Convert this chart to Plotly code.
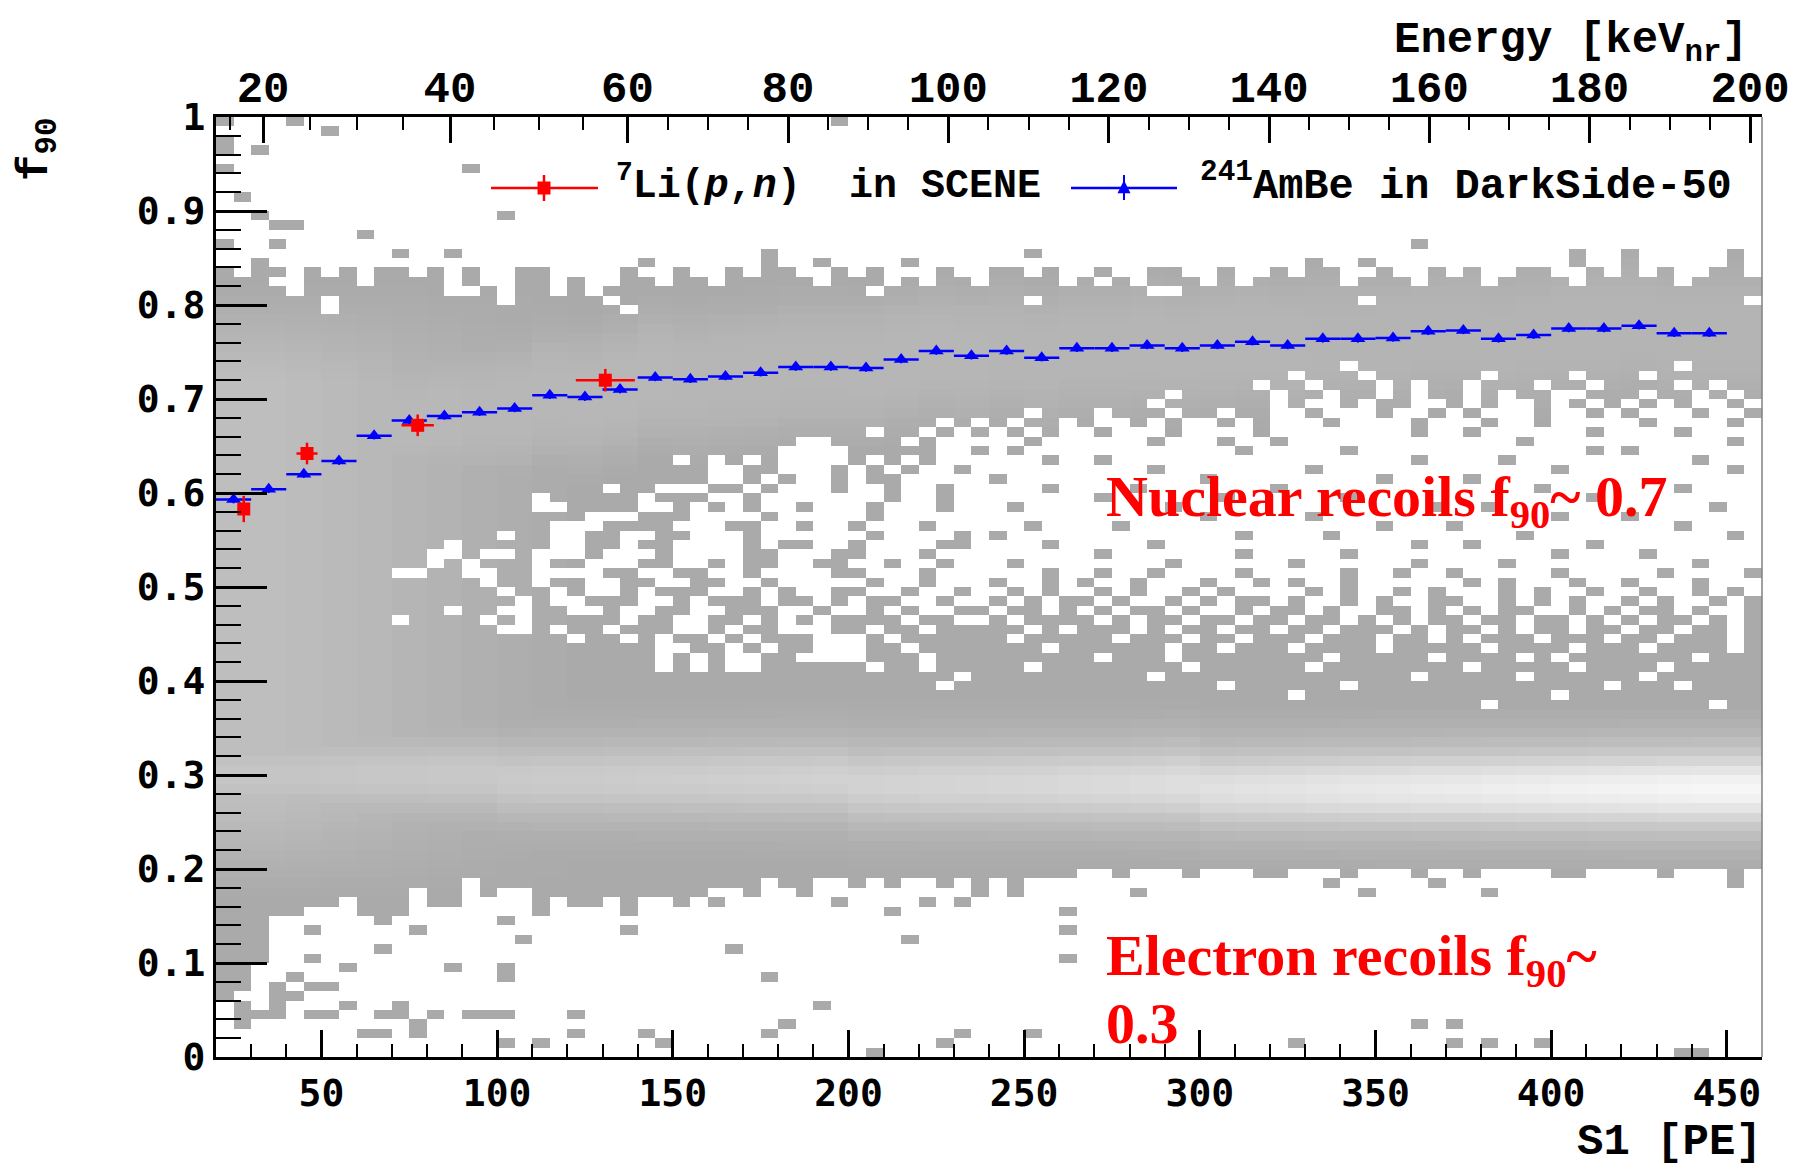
import numpy as np
import plotly.graph_objects as go

# ---------------- data ----------------
# 2D histogram binning: S1 [PE] 20..460 in 5 PE bins, f90 0..1 in 0.01 bins
s1_lo, s1_w, n_s1 = 20.0, 5.0, 88
f90_w, n_f90 = 0.01, 100

# lower edge of the solid electron-recoil region per 5-PE column
er_lo = [0.07, 0.07, 0.10, 0.15, 0.15, 0.16, 0.16, 0.17, 0.15, 0.14,
         0.15, 0.18, 0.16, 0.16, 0.19, 0.17, 0.18, 0.18, 0.15, 0.17,
         0.16, 0.16, 0.17, 0.15, 0.17, 0.17, 0.16, 0.17,
         0.18, 0.18, 0.17, 0.19, 0.18, 0.18, 0.19, 0.19, 0.18, 0.19,
         0.18, 0.19, 0.19, 0.18, 0.19, 0.17, 0.19, 0.18, 0.19, 0.19,
         0.19, 0.20, 0.20, 0.19, 0.20, 0.20, 0.20, 0.19, 0.20, 0.20,
         0.20, 0.19, 0.19, 0.20, 0.20, 0.20, 0.19, 0.20, 0.20, 0.20,
         0.19, 0.20, 0.20, 0.19, 0.20, 0.20, 0.20, 0.20, 0.19, 0.19,
         0.20, 0.20, 0.20, 0.20, 0.19, 0.20, 0.20, 0.20, 0.19, 0.20]
# upper edge of the solid nuclear-recoil band per 5-PE column
nr_hi = [0.84, 0.83, 0.85, 0.84, 0.83, 0.84, 0.83, 0.84, 0.82, 0.84,
         0.84, 0.83, 0.84, 0.82, 0.84, 0.83, 0.81, 0.84, 0.84, 0.82,
         0.83, 0.81, 0.82, 0.84, 0.83, 0.82, 0.84, 0.83, 0.82, 0.84,
         0.83, 0.84, 0.84, 0.83, 0.82, 0.84, 0.83, 0.84, 0.82, 0.83,
         0.82, 0.84, 0.83, 0.82, 0.84, 0.84, 0.83, 0.84, 0.82, 0.83,
         0.84, 0.83, 0.82, 0.84, 0.84, 0.83, 0.82, 0.84, 0.82, 0.83,
         0.84, 0.83, 0.84, 0.84, 0.82, 0.83, 0.84, 0.83, 0.82, 0.84,
         0.83, 0.84, 0.82, 0.83, 0.84, 0.84, 0.83, 0.82, 0.84, 0.83,
         0.84, 0.83, 0.84, 0.82, 0.83, 0.84, 0.84, 0.83]

# occupancy of the region between the bands, rows f90 bin 0.73 down to 0.36
gap_top = 0.73
gap_rows = [
 "########## ########## ########## ########## ####  ###### ########## ####.##### ########## ###.####",
 "########## ########## ########## ########## ####  ###### ########## #.###.#### ##.####.## #.######",
 "########## ########## ########## ########## ####  ###### #########. ##.###.#.# #.###.##.# ###.#.##",
 "########## ########## ########## ########## ####  ###### ####.##### .##.##.#.# #.#.##..## #.##.#.#",
 "########## ########## ########## ########## ####  ###### ###.###### .#..#.##.. #.#..#.#.# .#.#..#.",
 "########## ########## ########## ########## ####  ##.### .###.##.## ..#...#..# .#...#..#. #...#..#",
 "########## ########## ########## ########## #.#.  #.##.# ..#.#..#.# ...#....#. ..#..#.... .#....#.",
 "########## ########## ########## #######.## .#.#  .#.#.. #...#....# ........#. .#......#. ...#....",
 "########## ########## ########## ###..####. #...  ..#... ...#...#.. #......... ....#..... ......#.",
 "########## ########## ########## ##....#### #..#  .#.... ........#. ....#..... ........#. #.......",
 "########## ########## ######.#.# .#....#.#. #...  ...#.. #......... ........#. ...#...... ....#...",
 "########## ########## ########.. ##...#.#.# ..#.  ...... ...#...... ..#....... ......#... ......#.",
 "########## ########## ########.. #.#..#.##. ....  #..... ......#... ......#... .#........ ........",
 "########## ########## ##.##...## .#...#..#. .#..  ...#.. ..#....... #......... .....#.... ...#....",
 "########## ########.# ####.###.. #.......#. .#..  ...... #......#.. ....#..... ........#. ........",
 "########## ########.. ####..#.#. #..#...#.. .#..  .#.... ....#..... .........# ..#....... .....#..",
 "########## ########## #...###... .#.....#.. ....  ...... ......#... ..#....... ......#... #.......",
 "########## #########. ..####...# #..#..#... #...  ..#... .#........ ......#... #......... ...#....",
 "########## ######.##. .##..##... #......#.. ..#.  #..... ........#. ...#...... ....#..... ......#.",
 "########## ###.#####. .##.##.... #.##..#... .##.  ...#.. ...#...... ........#. .#......#. ........",
 "########## ##..#..#.. .#...#.... ##...##... #...  ...... #.......#. ....#..... ......#... .#......",
 "########## ##.#.###.# #...##..#. ##..##..#. .#..  .#.... ....#..... .#......#. ...#...... ....#...",
 "########## ..##..##.. ..##..##.. #....##... #...  ...#.. #..#....#. ....#..#.. #.....#... ..#....#",
 "########## #####.##.# #..##..##. .#.....#.. #...  #..#.# ..#...#..# .#..#..... .#.#...#.. #...#...",
 "########## ######.##. #..#.###.. #.#..##..# ..#.  .#.#.. #.#..#.#.. ..#.#..#.# ...#.#..#. .#..#.#.",
 "########## #######.#. .###..#.## #.##.#.##. .#..  #.#.## .#..#.#.## .#..#.#..# #..#.#.#.. #.#..#.#",
 "########## ###.##..## ..#..##..# ##..#..#.# ..##  .##.#. #.##.#..#. ##.#..##.# .#.##..#.# .##.#..#",
 "########## .####.#.## ###.##..## .#.#.####. ##..  #.#### .#.##.##.# #.##.#.#.# #.##.##.#. #.##.#.#",
 "########## ######..#. ##.###..#. ##...##.## .###  ##.#.# ##.#.##.## .##.###.#. ##.#.##.## .##.##.#",
 "########## ########## .##.#.##.# .###...#.# ####  #.#### #.###.##.# ##.###.##. #.###.###. ##.###.#",
 "########## ########## #####..##. #.##...##. ####  ###.## ####.##.## #.####.### ##.####.## #.####.#",
 "########## ########## #####.#.#. .##....### .###  ###### .###.##### ###.#####. ####.#.### ####.###",
 "########## ########## #####.#.#. .######.## .###  ##.### #####.#### ##.####### #.#####.## ##.#####",
 "########## ########## ########## ########## ##.#  ###### ###.###### ########.# ####.##### #.######",
 "########## ########## ########## ########## #.##  ###### #######.## ####.##### #########. ###.####",
 "########## ########## ########## ########## ####  ###### ########## #.######## ######.### ########",
 "########## ########## ########## ########## ####  ###### ########## ########## ##.####### #####.##",
 "########## ########## ########## ########## ####  ###### ########## ########## ########## ########",
]

# isolated filled cells (S1 [PE], f90 bin lower edge)
outliers = [
 (24, 0.99), (43, 0.99), (52, 0.98), (22, 0.97), (22, 0.96), (32, 0.96), (22, 0.94),
 (92, 0.94), (27, 0.91), (32, 0.89), (37, 0.88), (42, 0.88), (62, 0.87), (102, 0.89),
 (37, 0.86), (22, 0.86), (72, 0.85), (87, 0.85), (142, 0.84), (177, 0.85), (177, 0.84),
 (192, 0.84), (217, 0.84), (197, 0.99), (252, 0.85), (362, 0.86), (422, 0.84), (452, 0.84),
 (406, 0.85), (406, 0.84), (422, 0.85), (452, 0.85), (332, 0.84), (347, 0.84),
 (33, 0.13), (47, 0.13), (47, 0.10), (57, 0.09), (67, 0.11), (77, 0.13), (87, 0.09),
 (102, 0.08), (102, 0.09), (102, 0.14), (107, 0.12), (137, 0.13), (42, 0.08), (37, 0.07),
 (37, 0.06), (42, 0.06), (37, 0.05), (47, 0.07), (52, 0.07), (47, 0.04), (52, 0.04),
 (57, 0.05), (27, 0.04), (32, 0.04), (27, 0.03), (37, 0.04), (62, 0.02), (67, 0.02),
 (67, 0.04), (72, 0.04), (72, 0.05), (77, 0.02), (77, 0.03), (82, 0.04), (92, 0.04),
 (97, 0.04), (102, 0.04), (102, 0.01), (112, 0.01), (122, 0.04), (122, 0.02), (142, 0.02),
 (147, 0.01), (22, 0.06), (27, 0.05),
 (162, 0.16), (167, 0.11), (177, 0.08), (192, 0.05), (182, 0.03), (177, 0.02), (207, 0.00),
 (212, 0.15), (217, 0.12), (227, 0.01), (232, 0.02), (252, 0.02), (262, 0.15), (262, 0.13),
 (262, 0.10), (282, 0.17), (327, 0.01), (362, 0.03), (372, 0.03), (372, 0.01), (382, 0.01),
 (397, 0.01), (382, 0.17), (347, 0.17), (336, 0.18), (367, 0.18), (452, 0.18), (438, 0.00),
 (443, 0.00), (198, 0.16), (222, 0.16), (232, 0.16), (246, 0.17), (186, 0.17), (171, 0.17),
]
# empty cells inside the nuclear-recoil band near its top
holes = [
 (42, 0.81), (52, 0.79), (92, 0.81), (102, 0.81), (102, 0.80), (117, 0.81), (132, 0.80),
 (137, 0.79), (207, 0.81), (287, 0.81), (292, 0.81), (252, 0.80), (347, 0.80), (272, 0.82),
 (457, 0.80), (37, 0.82), (42, 0.82), (52, 0.80), (87, 0.81), (97, 0.82), (127, 0.81),
]

# brightness of the bands per 10-PE column (grey levels above the 1-count grey)
er_peak = [28, 28, 28, 29, 30, 30, 31, 31, 32, 33, 33, 34, 35, 36, 37, 38, 39, 40, 41, 42,
           44, 45, 46, 47, 49, 50, 52, 54, 55, 57, 58, 60, 62, 63, 65, 66, 68, 69, 71, 72,
           73, 75, 76, 76]
er_center = [0.30] * 8 + [0.295] * 10 + [0.29] * 10 + [0.285] * 16
er_profile = [1.0, 0.93, 0.78, 0.58, 0.40, 0.26, 0.16, 0.09, 0.04, 0.0]
nr_peak = [14, 14, 14, 14, 14, 14, 14, 13, 13, 13, 13, 13, 13, 12, 12, 12, 12, 12, 12, 12,
           12, 12, 11, 11, 11, 11, 11, 11, 11, 11, 11, 10, 10, 10, 10, 10, 10, 10, 10, 10,
           10, 10, 10, 10]
nr_profile = [1.0, 1.0, 1.0, 0.95, 0.85, 0.7, 0.5, 0.3, 0.15, 0.0]
low_peak = [20, 20, 18, 16, 14, 11, 9, 6, 4, 2]
low_f90 = [0.17, 0.27, 0.72, 0.82]
low_shape = [0.0, 1.0, 1.0, 0.0]

# 241AmBe in DarkSide-50 (10 PE bins)
ambe_s1 = [25, 35, 45, 55, 65, 75, 85, 95, 105, 115, 125, 135, 145, 155, 165, 175, 185, 195,
           205, 215, 225, 235, 245, 255, 265, 275, 285, 295, 305, 315, 325, 335, 345, 355,
           365, 375, 385, 395, 405, 415, 425, 435, 445]
ambe_f90 = [0.593, 0.604, 0.620, 0.634, 0.661, 0.677, 0.682, 0.686, 0.690, 0.704,
            0.702, 0.710, 0.723, 0.721, 0.724, 0.728, 0.734, 0.734, 0.733, 0.742,
            0.751, 0.746, 0.751, 0.744, 0.754, 0.754, 0.757, 0.754, 0.757, 0.761,
            0.757, 0.764, 0.764, 0.765, 0.772, 0.773, 0.764, 0.768, 0.775, 0.775,
            0.778, 0.770, 0.770]
ambe_s1_err = [5] * 43
ambe_f90_err = [0.004] * 43

# 7Li(p,n) in SCENE
li_s1 = [27.9, 45.9, 77.4, 130.8]
li_f90 = [0.583, 0.642, 0.672, 0.720]
li_s1_err = [1.5, 3.0, 4.6, 8.4]
li_f90_err = [0.014, 0.0115, 0.0115, 0.012]

# top axis: nuclear recoil energy [keVnr] at S1 [PE]
energy_kev = [20, 40, 60, 80, 100, 120, 140, 160, 180, 200]
energy_s1 = [33.4, 86.6, 137.1, 182.8, 228.4, 274.1, 319.7, 365.3, 410.9, 456.6]
energy_minor_kev = [15, 25, 30, 35, 45, 50, 55, 65, 70, 75, 85, 90, 95, 105, 110, 115,
                    125, 130, 135, 145, 150, 155, 165, 170, 175, 185, 190, 195]
energy_15kev_s1 = 24.0

# ---------------- build histogram ----------------
filled = np.zeros((n_f90, n_s1), dtype=bool)
gap_bot_j = int(round(gap_top * 100)) - len(gap_rows) + 1
for i in range(n_s1):
    filled[int(round(er_lo[i] * 100)):gap_bot_j, i] = True
    filled[int(round(gap_top * 100)) + 1:int(round(nr_hi[i] * 100)), i] = True
for k, row in enumerate(gap_rows):
    s = row.replace(" ", "")
    s = (s + "#" * n_s1)[:n_s1]
    j = int(round(gap_top * 100)) - k
    for i, ch in enumerate(s):
        filled[j, i] = (ch == "#")
for pe, f in outliers:
    filled[int(round(f * 100)), int((pe - s1_lo) // s1_w)] = True
for pe, f in holes:
    filled[int(round(f * 100)), min(int((pe - s1_lo) // s1_w), n_s1 - 1)] = False

L = np.full((n_f90, n_s1), np.nan)
for i in range(n_s1):
    c = i // 2
    nr_c = ambe_f90[min(c, len(ambe_f90) - 1)]
    for j in range(n_f90):
        if not filled[j, i]:
            continue
        f = (j + 0.5) * f90_w
        t_er = er_peak[c] * np.interp(abs(f - er_center[c]) / f90_w,
                                      np.arange(len(er_profile)), er_profile, right=0)
        t_nr = nr_peak[c] * np.interp(abs(f - nr_c) / f90_w,
                                      np.arange(len(nr_profile)), nr_profile, right=0)
        t_low = (low_peak[c] * np.interp(f, low_f90, low_shape)) if c < len(low_peak) else 0
        L[j, i] = 170 + max(t_er, t_nr, t_low)

xc = [s1_lo + s1_w * (i + 0.5) for i in range(n_s1)]
yc = [f90_w * (j + 0.5) for j in range(n_f90)]
zl = [[None if np.isnan(v) else float(v) for v in row] for row in L]

minor_s1 = list(np.interp(energy_minor_kev, [15] + energy_kev, [energy_15kev_s1] + energy_s1))

# ---------------- figure ----------------
W, H = 1810, 1167
ML, MR, MT, MB = 216, 48, 117, 110
PW, PH = W - ML - MR, H - MT - MB


def px(x):
    return (x - ML) / PW


def py(y):
    return (H - MB - y) / PH


fig = go.Figure()
fig.add_trace(go.Heatmap(x=xc, y=yc, z=zl, zmin=170, zmax=250, showscale=False,
                         colorscale=[[0, "rgb(170,170,170)"], [1, "rgb(250,250,250)"]],
                         hoverinfo="skip"))
fig.add_trace(go.Scatter(x=ambe_s1, y=ambe_f90, mode="markers", showlegend=False,
                         marker=dict(symbol="triangle-up", size=13, color="#0000ff"),
                         error_x=dict(type="data", array=ambe_s1_err, color="#0000ff",
                                      thickness=2.5, width=0),
                         error_y=dict(type="data", array=ambe_f90_err, color="#0000ff",
                                      thickness=2, width=0)))
fig.add_trace(go.Scatter(x=li_s1, y=li_f90, mode="markers", showlegend=False,
                         marker=dict(symbol="square", size=13, color="#ff0000"),
                         error_x=dict(type="data", array=li_s1_err, color="#ff0000",
                                      thickness=2.5, width=0),
                         error_y=dict(type="data", array=li_f90_err, color="#ff0000",
                                      thickness=2.5, width=0)))
fig.add_trace(go.Scatter(x=[s1_lo], y=[0], xaxis="x2", mode="markers", showlegend=False,
                         marker=dict(opacity=0), hoverinfo="skip"))

tickfont_sans = dict(family="DejaVu Sans Mono", size=38, color="black", weight="bold")
fig.update_layout(
    width=W, height=H, autosize=False,
    margin=dict(l=ML, r=MR, t=MT, b=MB),
    paper_bgcolor="white", plot_bgcolor="white",
    xaxis=dict(range=[20, 460], showgrid=False, zeroline=False,
               showline=True, linecolor="black", linewidth=3,
               ticks="inside", ticklen=27, tickwidth=2.5, tickcolor="black",
               tick0=0, dtick=50, tickfont=tickfont_sans, ticklabelstandoff=0,
               minor=dict(ticks="inside", ticklen=13, tickwidth=2, tickcolor="black",
                          tick0=0, dtick=10)),
    xaxis2=dict(range=[20, 460], overlaying="x", side="top", anchor="y",
                showgrid=False, zeroline=False,
                showline=True, linecolor="black", linewidth=3,
                tickmode="array", tickvals=energy_s1, ticktext=[str(v) for v in energy_kev],
                ticks="inside", ticklen=26, tickwidth=2.5, tickcolor="black",
                tickfont=dict(family="Liberation Mono", size=44, color="black", weight="bold"),
                ticklabelstandoff=-6,
                minor=dict(tickmode="array", tickvals=minor_s1, ticks="inside", ticklen=13,
                           tickwidth=2, tickcolor="black")),
    yaxis=dict(range=[0, 1], showgrid=False, zeroline=False,
               showline=True, linecolor="black", linewidth=3,
               ticks="inside", ticklen=51, tickwidth=2.5, tickcolor="black",
               tick0=0, dtick=0.1, tickfont=tickfont_sans, ticklabelstandoff=0,
               minor=dict(ticks="inside", ticklen=25, tickwidth=2, tickcolor="black",
                          tick0=0, dtick=0.02)),
    showlegend=False,
)

red_serif = dict(family="Liberation Serif", size=58, color="#ff0000", weight="bold")
annotations = [
    dict(text="Energy [keV<sub>nr</sub>]", x=px(1750), y=py(42), xanchor="right",
         yanchor="middle", font=dict(family="Liberation Mono", size=44, color="black",
                                     weight="bold")),
    dict(text="S1 [PE]", x=px(1764), y=py(1142), xanchor="right", yanchor="middle",
         font=dict(family="Liberation Mono", size=44, color="black", weight="bold")),
    dict(text="f<sub>90</sub>", x=px(38), y=py(150), xanchor="center", yanchor="middle",
         textangle=-90, font=dict(family="Liberation Mono", size=44, color="black",
                                  weight="bold")),
    dict(text="<sup>7</sup>Li(<i>p</i>,<i>n</i>)\u00a0\u00a0in SCENE", x=px(614), y=py(183),
         xanchor="left", yanchor="middle",
         font=dict(family="Liberation Mono", size=40, color="black", weight="bold")),
    dict(text="<sup>241</sup>AmBe in DarkSide-50", x=px(1198), y=py(183),
         xanchor="left", yanchor="middle",
         font=dict(family="Liberation Mono", size=42, color="black", weight="bold")),
    dict(text="Nuclear recoils f<sub>90</sub>~ 0.7", x=px(1104), y=py(500),
         xanchor="left", yanchor="middle", font=red_serif),
    dict(text="Electron recoils f<sub>90</sub>~", x=px(1104), y=py(959),
         xanchor="left", yanchor="middle", font=red_serif),
    dict(text="0.3", x=px(1104), y=py(1023), xanchor="left", yanchor="middle",
         font=red_serif),
]
for a in annotations:
    a.update(xref="paper", yref="paper", showarrow=False)
fig.update_layout(annotations=annotations)

ly = py(188)
red_c, blue_c = px(544), px(1124)
dx, dy = 6.5 / PW, 6.5 / PH
shapes = [
    dict(type="line", x0=px(491), x1=px(598), y0=ly, y1=ly, line=dict(color="#ff0000", width=2.5)),
    dict(type="line", x0=red_c, x1=red_c, y0=py(201), y1=py(175), line=dict(color="#ff0000", width=2.5)),
    dict(type="rect", x0=red_c - dx, x1=red_c + dx, y0=ly - dy, y1=ly + dy,
         fillcolor="#ff0000", line=dict(width=0)),
    dict(type="line", x0=px(1071), x1=px(1177), y0=ly, y1=ly, line=dict(color="#0000ff", width=2.5)),
    dict(type="line", x0=blue_c, x1=blue_c, y0=py(200), y1=py(175), line=dict(color="#0000ff", width=2)),
    dict(type="path", path=f"M {blue_c - dx} {ly - 0.8 * dy} L {blue_c + dx} {ly - 0.8 * dy} "
                           f"L {blue_c} {ly + 1.2 * dy} Z",
         fillcolor="#0000ff", line=dict(width=0)),
    dict(type="line", x0=1, x1=1, y0=0, y1=1, line=dict(color="#808080", width=1.5)),
]
for s in shapes:
    s.update(xref="paper", yref="paper")
fig.update_layout(shapes=shapes)

fig.write_html("out.html")
